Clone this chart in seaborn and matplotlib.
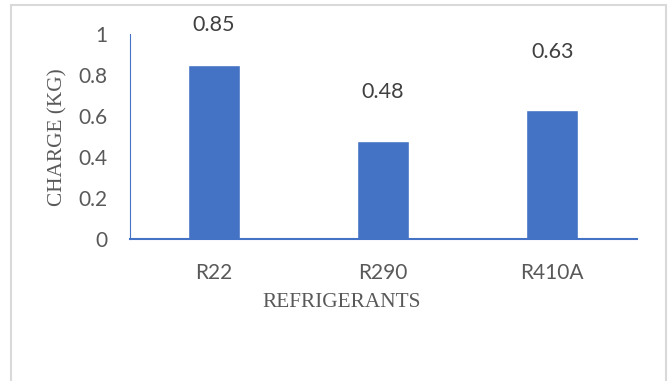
import matplotlib
matplotlib.use("Agg")
import matplotlib.pyplot as plt
from matplotlib.patches import Rectangle
from matplotlib.ticker import FixedLocator
import seaborn as sns
import pandas as pd

# Refrigerant charge data
refrigerants = ["R22", "R290", "R410A"]
charge_kg = [0.85, 0.48, 0.63]
label_lift = [0.194, 0.238, 0.282]  # vertical offset of each value label above its bar
y_ticks = [0, 0.2, 0.4, 0.6, 0.8, 1]
y_tick_labels = ["0", "0.2", "0.4", "0.6", "0.8", "1"]

sns.set_style("white")
plt.rcParams["font.family"] = ["Lato", "DejaVu Sans"]

bar_color = "#4472C4"
text_gray = "#595959"
axis_blue = "#4472C4"

df = pd.DataFrame({"refrigerant": refrigerants, "charge": charge_kg})

fig = plt.figure(figsize=(6.7, 3.81), dpi=100)
ax = fig.add_axes([0.1933, 0.3714, 0.757, 0.5394])

sns.barplot(data=df, x="refrigerant", y="charge", color=bar_color,
            saturation=1, width=0.31, ax=ax)

ax.set_xlim(-0.5, 2.5)
ax.set_ylim(0, 1)
ax.set_yticks(y_ticks)
ax.set_yticklabels(y_tick_labels)

# spines
for s in ["top", "right"]:
    ax.spines[s].set_visible(False)
ax.spines["left"].set_color(axis_blue)
ax.spines["left"].set_linewidth(0.8)
ax.spines["bottom"].set_color(axis_blue)
ax.spines["bottom"].set_linewidth(1.5)

# category boundary tick marks
ax.xaxis.set_minor_locator(FixedLocator([-0.5, 0.5, 1.5, 2.5]))
ax.tick_params(axis="x", which="minor", length=5.5, width=1.2, color=axis_blue, direction="out")
ax.tick_params(axis="x", which="major", length=0, pad=17, labelsize=15, labelcolor=text_gray)
ax.tick_params(axis="y", which="major", length=0, pad=16, labelsize=15, labelcolor=text_gray)

# axis titles
ax.set_xlabel("")
ax.set_ylabel("")
ax.text(0.419, -0.309, "REFRIGERANTS", transform=ax.transAxes,
        family=["Liberation Serif"], fontsize=15.3, color=text_gray,
        ha="center", va="center")
ax.text(-0.141, 0.5, "CHARGE (KG)", transform=ax.transAxes, rotation=90,
        family=["Liberation Serif"], fontsize=15.3, color=text_gray,
        ha="center", va="center")

# value labels
for i, (v, lift) in enumerate(zip(charge_kg, label_lift)):
    ax.text(i, v + lift, f"{v:.2f}", ha="center", va="center",
            fontsize=15.5, color="#404040")

# chart area border
fig.patches.append(Rectangle((11 / 670, -0.1), 655 / 670, 1.087,
                             transform=fig.transFigure, fill=False,
                             edgecolor="#d9d9d9", linewidth=1.5, clip_on=False))

fig.savefig("out.png", dpi=100)
